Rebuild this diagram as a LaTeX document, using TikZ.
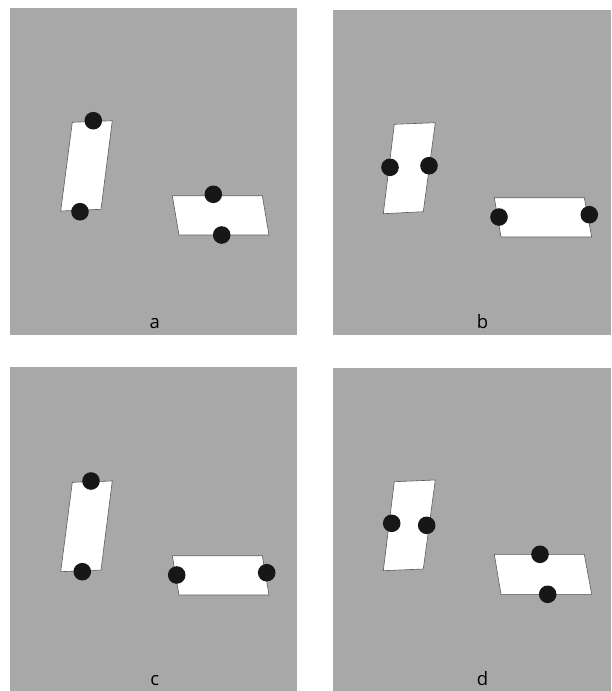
\documentclass[tikz,border=0pt]{standalone}
\usepackage{fontspec}
\setmainfont{Open Sans}
\definecolor{panelgray}{HTML}{A7A8A7}
\definecolor{dotblack}{HTML}{161718}
\definecolor{edgegray}{HTML}{5A5A5A}
\tikzset{
  panel/.style={fill=panelgray, draw=none},
  plate/.style={fill=white, draw=edgegray, line width=0.6pt, line join=miter},
  dot/.style={circle, fill=dotblack, draw=none, minimum size=17.6pt, inner sep=0pt},
  lab/.style={anchor=base, font=\fontsize{18.5}{22}\selectfont, text=black, inner sep=0pt}
}
\begin{document}
\begin{tikzpicture}[x=1pt,y=-1pt]
\useasboundingbox (0,0) rectangle (611,691);
\fill[white] (0,0) rectangle (611,691);
% panels
\path[panel] (10,8) rectangle (297,335);
\path[panel] (333,10) rectangle (611,335);
\path[panel] (10,367) rectangle (297,691);
\path[panel] (333,368) rectangle (611,691);
% panel a
\draw[plate] (72.3,122.3) -- (112.3,120.7) -- (101,209.3) -- (60.7,211) -- cycle;
\draw[plate] (172.3,195.7) -- (262.3,195.7) -- (269,235) -- (179,235) -- cycle;
\node[dot] (a1) at (93.3,120.7) {};
\node[dot] (a2) at (80,211.7) {};
\node[dot] (a3) at (213.3,194.3) {};
\node[dot] (a4) at (221.7,235) {};
\node[lab] (la) at (154.7,328) {a};
% panel b
\draw[plate] (394.3,124.3) -- (435.3,122.7) -- (423.3,211.7) -- (383.3,213.7) -- cycle;
\draw[plate] (494.3,197.7) -- (584.3,197.7) -- (591.7,237) -- (501,237) -- cycle;
\node[dot] (b1) at (390,167.3) {};
\node[dot] (b2) at (429,165.7) {};
\node[dot] (b3) at (499,217) {};
\node[dot] (b4) at (589.3,214.7) {};
\node[lab] (lb) at (482.5,328) {b};
% panel c
\draw[plate] (72.3,482.3) -- (112.3,481) -- (101,570) -- (60.7,571.7) -- cycle;
\draw[plate] (172.3,555.7) -- (262.3,555.7) -- (269,595) -- (179,595) -- cycle;
\node[dot] (c1) at (91,481) {};
\node[dot] (c2) at (82.3,571.7) {};
\node[dot] (c3) at (176.7,575) {};
\node[dot] (c4) at (266.7,572.7) {};
\node[lab] (lc) at (154.7,685) {c};
% panel d
\draw[plate] (394.3,481.7) -- (435.3,480) -- (423.3,569) -- (383.3,570.7) -- cycle;
\draw[plate] (494.3,554.3) -- (584.3,554.3) -- (591.7,594.3) -- (501,594.3) -- cycle;
\node[dot] (d1) at (391.7,523.3) {};
\node[dot] (d2) at (426.7,525.3) {};
\node[dot] (d3) at (540,554.3) {};
\node[dot] (d4) at (547.7,594.3) {};
\node[lab] (ld) at (482.5,685) {d};
\end{tikzpicture}
\end{document}
